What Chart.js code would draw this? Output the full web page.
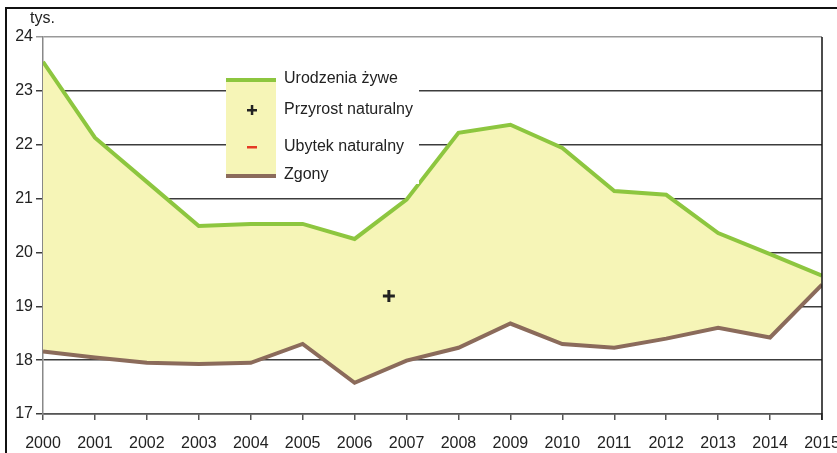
<!DOCTYPE html>
<html>
<head>
<meta charset="utf-8">
<script src="https://cdn.jsdelivr.net/npm/chart.js@4.4.1/dist/chart.umd.min.js"></script>
<style>
  html, body { margin: 0; padding: 0; background: #fff; }
  #wrap { width: 837px; height: 453px; }
</style>
</head>
<body>
<div id="wrap"><canvas id="chart"></canvas></div>
<script>
/* ===========================
   DATA (tys.)
=========================== */

const years = [2000, 2001, 2002, 2003, 2004, 2005, 2006, 2007,
               2008, 2009, 2010, 2011, 2012, 2013, 2014, 2015];

const births = [23.54, 22.13, 21.31, 20.49, 20.53, 20.53, 20.25, 20.98,
                22.22, 22.37, 21.94, 21.14, 21.07, 20.36, 19.97, 19.57];

const deaths = [18.16, 18.05, 17.95, 17.93, 17.95, 18.30, 17.58, 17.99,
                18.23, 18.68, 18.30, 18.23, 18.40, 18.60, 18.42, 19.40];

// "+" marker placed inside the filled area
const growthMark = [{ x: 2006.66, y: 19.19 }];

const legendLabels = ["Urodzenia żywe", "Przyrost naturalny", "Ubytek naturalny", "Zgony"];

const unitLabel = "tys.";

const GREEN = "#8dc63f";
const BROWN = "#8b6b5b";
const FILL = "#f6f5b7";
const FONT = "'Liberation Sans', Arial, sans-serif";

/* ===========================
   PLUGINS
=========================== */

const framePlugin = {
    id: "frame",
    beforeDraw(chart) {
        const ctx = chart.ctx;
        ctx.save();
        ctx.fillStyle = "#fff";
        ctx.fillRect(0, 0, chart.width, chart.height);
        ctx.strokeStyle = "#111";
        ctx.lineWidth = 2;
        ctx.beginPath();
        ctx.moveTo(6, chart.height);
        ctx.lineTo(6, 8);
        ctx.lineTo(chart.width, 8);
        ctx.stroke();

        ctx.fillStyle = "#222";
        ctx.font = "16px " + FONT;
        ctx.textBaseline = "middle";
        ctx.textAlign = "left";
        ctx.fillText(unitLabel, 30, 19);
        ctx.restore();
    },
    afterDraw(chart) {
        const a = chart.chartArea;
        const ctx = chart.ctx;
        ctx.save();
        ctx.strokeStyle = "#111";
        ctx.lineWidth = 1.5;
        ctx.beginPath();
        ctx.moveTo(a.right, a.top);
        ctx.lineTo(a.right, a.bottom + 6);
        ctx.stroke();
        ctx.restore();
    }
};

const legendPlugin = {
    id: "boxLegend",
    afterDatasetsDraw(chart) {
        const ctx = chart.ctx;
        ctx.save();

        // white panel hiding grid lines
        ctx.fillStyle = "#fff";
        ctx.fillRect(226, 66, 193, 118);

        // yellow sample box
        ctx.fillStyle = FILL;
        ctx.fillRect(226, 80, 50, 96);

        ctx.fillStyle = GREEN;
        ctx.fillRect(226, 78, 50, 4);
        ctx.fillStyle = BROWN;
        ctx.fillRect(226, 174, 50, 4);

        // plus
        ctx.fillStyle = "#222";
        ctx.fillRect(247, 109, 10, 2.5);
        ctx.fillRect(250.8, 105, 2.5, 10);

        // minus
        ctx.fillStyle = "#e53a24";
        ctx.fillRect(247, 146, 10, 2.5);

        ctx.fillStyle = "#222";
        ctx.font = "16px " + FONT;
        ctx.textAlign = "left";
        ctx.textBaseline = "middle";
        const ys = [79, 110, 147, 175];
        legendLabels.forEach((t, i) => ctx.fillText(t, 284, ys[i]));

        ctx.restore();
    }
};

/* ===========================
   CHART
=========================== */

const toPoints = (arr) => arr.map((v, i) => ({ x: years[i], y: v }));

new Chart(document.getElementById("chart"), {
    type: "line",
    data: {
        datasets: [
            {
                label: legendLabels[0],
                data: toPoints(births),
                borderColor: GREEN,
                borderWidth: 4,
                backgroundColor: FILL,
                fill: "+1",
                pointRadius: 0,
                tension: 0,
                order: 2
            },
            {
                label: legendLabels[3],
                data: toPoints(deaths),
                borderColor: BROWN,
                borderWidth: 4,
                fill: false,
                pointRadius: 0,
                tension: 0,
                order: 1
            },
            {
                label: legendLabels[1],
                data: growthMark,
                showLine: false,
                pointStyle: "cross",
                pointRadius: 6,
                borderWidth: 3,
                borderColor: "#222",
                order: 0
            }
        ]
    },
    options: {
        responsive: true,
        maintainAspectRatio: false,
        animation: false,
        layout: {
            padding: { left: 0, right: 0, top: 37, bottom: 0 }
        },
        plugins: {
            legend: { display: false },
            tooltip: { enabled: false }
        },
        scales: {
            x: {
                type: "linear",
                min: 2000,
                max: 2015,
                afterFit(scale) {
                    scale.height = 39;
                    scale.paddingLeft = 0;
                    scale.paddingRight = 15;
                },
                border: { color: "#555", width: 1.5 },
                grid: {
                    drawOnChartArea: false,
                    drawTicks: true,
                    tickLength: 6,
                    color: "#555",
                    lineWidth: 1.5
                },
                ticks: {
                    stepSize: 1,
                    autoSkip: false,
                    maxRotation: 0,
                    padding: 14,
                    color: "#222",
                    font: { family: FONT, size: 16 },
                    callback: (v) => String(v)
                }
            },
            y: {
                min: 17,
                max: 24,
                afterFit(scale) { scale.width = 43; },
                border: { color: "#888", width: 1.5 },
                grid: {
                    drawTicks: true,
                    tickLength: 7,
                    color: (c) => (c.tick && c.tick.value === 24 ? "#999" : "#3c3c3c"),
                    lineWidth: 1.5
                },
                ticks: {
                    stepSize: 1,
                    padding: 3,
                    color: "#222",
                    font: { family: FONT, size: 16 }
                }
            }
        }
    },
    plugins: [framePlugin, legendPlugin]
});
</script>
</body>
</html>
